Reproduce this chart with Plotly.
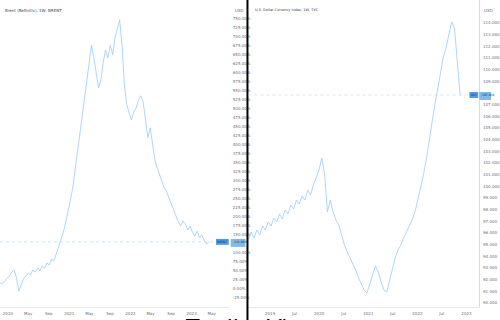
import pandas as pd
import plotly.graph_objects as go

W, H = 500, 320

left_title = "Brent (Refinitiv), 1W, BRENT"
right_title = "U.S. Dollar Currency Index, 1W, TVC"
bottom_text = "TradingView"

# Left series: % change, 2-weekly samples
left_start = "2019-11-15"
left_pct = [17, 14, 22, 28, 36, 47, 53, 31, -6, 11, 28, 36, 44, 39, 53, 47, 58, 50, 64, 58,
            72, 67, 83, 78, 97, 114, 136, 158, 186, 214, 247, 281, 331, 373, 428, 475, 525, 581, 631, 678,
            642, 595, 559, 581, 631, 664, 642, 678, 651, 698, 726, 748, 678, 567, 512, 492, 470, 492, 503, 525,
            537, 520, 475, 420, 448, 400, 359, 336, 317, 297, 281, 270, 253, 234, 220, 203, 186, 175, 189, 181,
            164, 175, 158, 147, 161, 142, 150, 136, 125, 131]
left_tick_dates = ["2020-01-01", "2020-05-01", "2020-09-01", "2021-01-01", "2021-05-01", "2021-09-01",
                   "2022-01-01", "2022-05-01", "2022-09-01", "2023-01-01", "2023-05-01"]
left_tick_text = ["2020", "May", "Sep", "2021", "May", "Sep", "2022", "May", "Sep", "2023", "May"]
left_y_ticks = list(range(-25, 751, 25))

# Right series: DXY, 3-weekly samples
right_start = "2018-07-24"
right_dxy = [95.41, 96.09, 95.58, 96.26, 95.83, 96.60, 96.26, 96.95, 96.60, 97.29, 96.95, 97.63, 97.20, 97.98,
             97.63, 98.40, 98.06, 98.83, 98.49, 99.18, 98.83, 99.69, 99.26, 100.12, 100.72, 101.40, 102.43,
             100.98, 97.80, 98.83, 97.80, 97.12, 96.69, 95.83, 94.98, 94.38, 93.86, 93.26, 92.83, 92.15, 91.55,
             91.12, 90.86, 91.55, 92.41, 93.18, 92.66, 91.81, 91.12, 90.95, 91.98, 93.01, 93.86, 94.55, 94.98,
             95.58, 96.09, 96.60, 97.12, 97.80, 98.83, 99.86, 100.98, 102.26, 103.97, 105.69, 106.97, 108.26,
             109.80, 111.00, 111.86, 112.97, 114.09, 113.57, 110.83, 107.83]
right_tick_dates = ["2019-01-01", "2019-07-01", "2020-01-01", "2020-07-01", "2021-01-01", "2021-07-01",
                    "2022-01-01", "2022-07-01", "2023-01-01"]
right_tick_text = ["2019", "Jul", "2020", "Jul", "2021", "Jul", "2022", "Jul", "2023"]
right_y_ticks = list(range(90, 115))

left_dates = pd.date_range(left_start, periods=len(left_pct), freq="14D")
right_dates = pd.date_range(right_start, periods=len(right_dxy), freq="21D")

LINE = "#9ccbf2"
TXT = "#6a6d78"

fig = go.Figure()
fig.add_trace(go.Scatter(x=left_dates, y=left_pct, mode="lines", line=dict(color=LINE, width=0.8),
                         xaxis="x", yaxis="y", showlegend=False, hoverinfo="skip"))
fig.add_trace(go.Scatter(x=right_dates, y=right_dxy, mode="lines", line=dict(color=LINE, width=0.8),
                         xaxis="x2", yaxis="y2", showlegend=False, hoverinfo="skip"))

ybot = 1 - 307 / H
L_RANGE = [-50, 803]
R_RANGE = [89.66, 115.97]
lu = (L_RANGE[1] - L_RANGE[0]) / 307  # units per px
ru = (R_RANGE[1] - R_RANGE[0]) / 307

l_last = left_pct[-1]
r_last = right_dxy[-1]
# tick labels hidden under the current-value boxes
l_ticks = [v for v in left_y_ticks if not (l_last - 6 * lu <= v <= l_last + 4 * lu)]
r_ticks = [v for v in right_y_ticks if not (r_last - 6 * ru <= v <= r_last + 4 * ru)]

fig.update_layout(
    width=W, height=H, margin=dict(l=0, r=0, t=0, b=0),
    paper_bgcolor="white", plot_bgcolor="white",
    font=dict(family="DejaVu Sans", color=TXT, size=4),
    xaxis=dict(domain=[0, 233 / W], range=[left_start, "2023-08-11"], anchor="y",
               tickvals=left_tick_dates, ticktext=left_tick_text, tickfont=dict(size=4, color=TXT),
               showgrid=False, zeroline=False, showline=True, linecolor="#e6e8ee", linewidth=1,
               ticks="", ticklabelstandoff=2),
    yaxis=dict(domain=[ybot, 1], range=L_RANGE, side="right", anchor="x",
               tickvals=l_ticks, ticktext=[f"{v:.2f}%" for v in l_ticks],
               tickfont=dict(size=4, color=TXT), showgrid=False, zeroline=False, showline=False,
               ticks="", ticklabelstandoff=3),
    xaxis2=dict(domain=[253 / W, 488 / W], range=[right_start, "2023-04-06"], anchor="y2",
                tickvals=right_tick_dates, ticktext=right_tick_text, tickfont=dict(size=4, color=TXT),
                showgrid=False, zeroline=False, showline=True, linecolor="#e6e8ee", linewidth=1,
                ticks="", ticklabelstandoff=2),
    yaxis2=dict(domain=[ybot, 1], range=R_RANGE, side="right", anchor="x2",
                tickvals=r_ticks, ticktext=[f"{v:.3f}" for v in r_ticks],
                tickfont=dict(size=4, color=TXT), showgrid=False, zeroline=False,
                showline=True, linecolor="#d9dbe2", linewidth=1, ticks="", ticklabelstandoff=2),
)

shapes = [
    dict(type="line", xref="paper", yref="paper", x0=252 / W, x1=252 / W, y0=0, y1=1,
         line=dict(color="black", width=2)),
]
ann = [
    dict(text=left_title, xref="paper", yref="paper", x=3 / W, y=1 - 10 / H, xanchor="left",
         yanchor="middle", showarrow=False, font=dict(size=4, color="#3a3d48")),
    dict(text=right_title, xref="paper", yref="paper", x=258 / W, y=1 - 10 / H, xanchor="left",
         yanchor="middle", showarrow=False, font=dict(size=3.5, color="#3a3d48")),
    dict(text="USD", xref="paper", yref="paper", x=237 / W, y=1 - 10 / H, xanchor="left",
         yanchor="middle", showarrow=False, font=dict(size=4, color=TXT)),
    dict(text="USD", xref="paper", yref="paper", x=491 / W, y=1 - 10 / H, xanchor="left",
         yanchor="middle", showarrow=False, font=dict(size=4, color=TXT)),
    dict(text=bottom_text, xref="paper", yref="paper", x=257 / W, y=1 - 313 / H, xanchor="center",
         yanchor="top", showarrow=False, font=dict(size=22, color="black", family="DejaVu Sans")),
]

for (yref, last, u, xs, tag, val, x_line0, x_line1) in [
    ("y", l_last, lu, (220, 233, 235, 250), "BRENT", f"{l_last:.2f}%", 0, 220),
    ("y2", r_last, ru, (478, 487, 488, 500), "DXY", f"{r_last:.3f}", 253, 478),
]:
    shapes.append(dict(type="line", xref="paper", yref=yref, x0=x_line0 / W, x1=x_line1 / W,
                       y0=last, y1=last, line=dict(color="#b8d8f4", width=0.7, dash="dot")))
    shapes.append(dict(type="rect", xref="paper", yref=yref, x0=xs[0] / W, x1=xs[1] / W,
                       y0=last - 3 * u, y1=last + 3 * u, fillcolor="#4f9de6", line=dict(width=0)))
    shapes.append(dict(type="rect", xref="paper", yref=yref, x0=xs[2] / W, x1=xs[3] / W,
                       y0=last - 5 * u, y1=last + 3 * u, fillcolor="#7fb9ee", line=dict(width=0)))
    ann.append(dict(text=tag, xref="paper", yref=yref, x=(xs[0] + xs[1]) / 2 / W, y=last,
                    xanchor="center", yanchor="middle", showarrow=False,
                    font=dict(size=3, color="#1a2a40")))
    ann.append(dict(text=val, xref="paper", yref=yref, x=(xs[2] + 1) / W, y=last,
                    xanchor="left", yanchor="middle", showarrow=False,
                    font=dict(size=3, color="#1a2a40")))

fig.update_layout(shapes=shapes, annotations=ann)
fig.write_html("out.html")
